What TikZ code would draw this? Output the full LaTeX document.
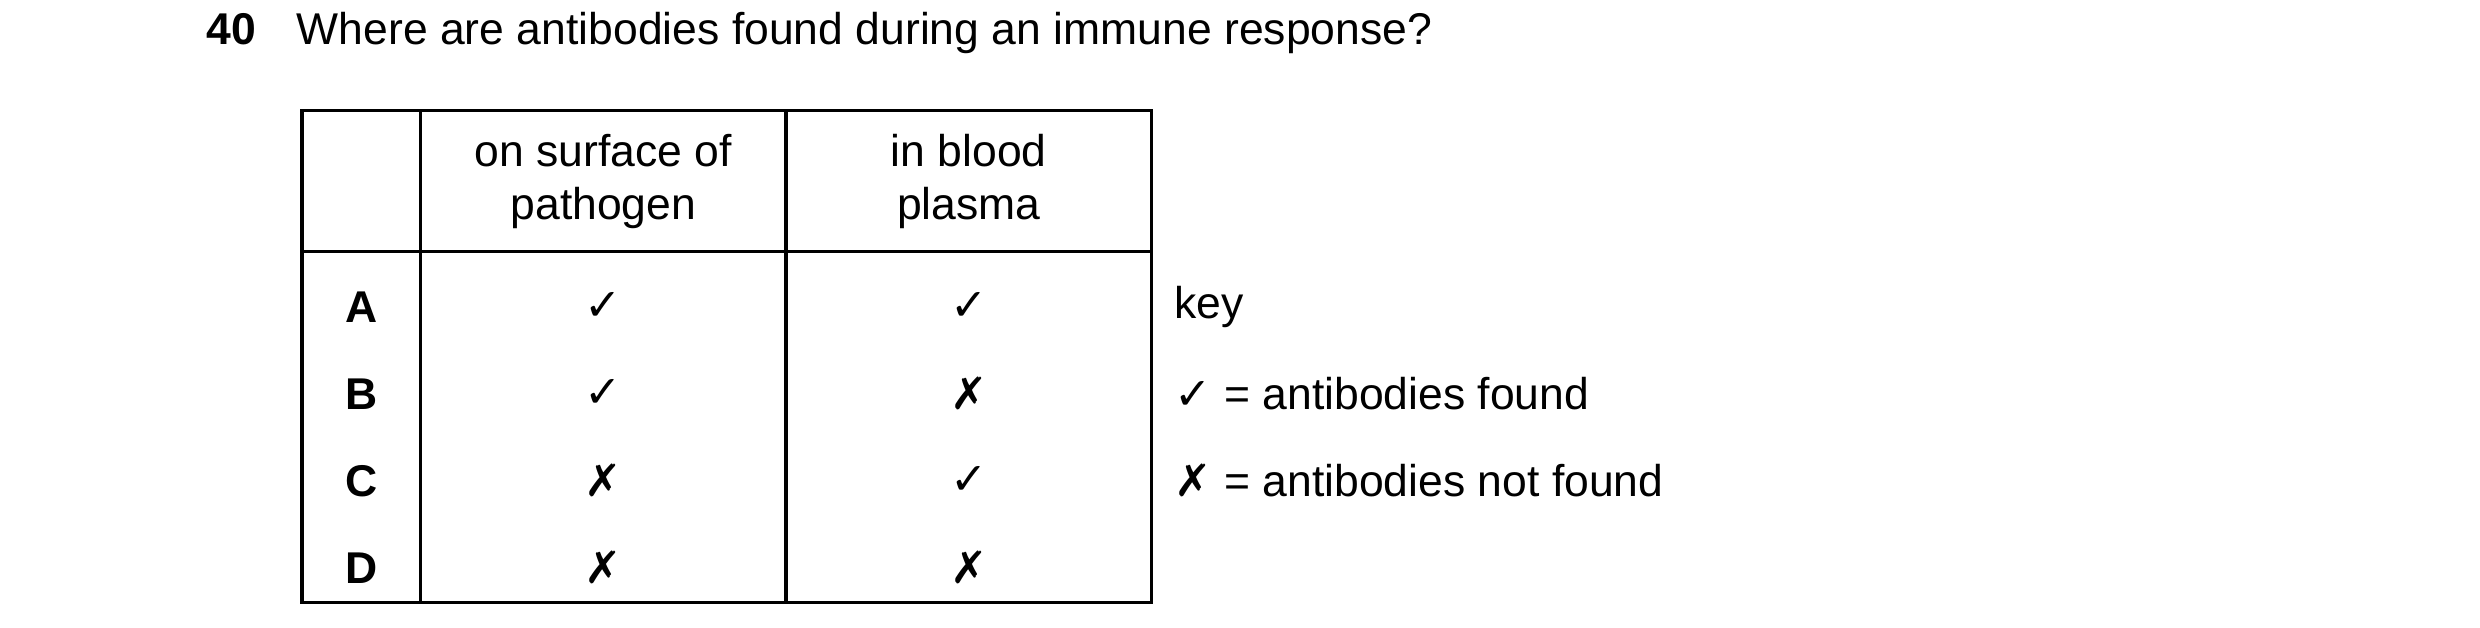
\documentclass[tikz,border=0pt]{standalone}
\usepackage{fontspec}
\setmainfont{Liberation Sans}
\newfontfamily\symfont{DejaVu Sans}
\newcommand{\yes}{{\symfont ✓}}
\newcommand{\no}{{\symfont ✗}}
\begin{document}
\begin{tikzpicture}[x=0.01cm,y=-0.01cm]
\tikzstyle{every node}=[font=\fontsize{8pt}{9.5pt}\selectfont, inner sep=0pt]
\tikzstyle{cell}=[align=center]
\tikzstyle{letter}=[font=\fontsize{8pt}{9.5pt}\selectfont\bfseries]
\useasboundingbox (0,0) rectangle (1568,397);
% question
\node[anchor=base west, font=\fontsize{8pt}{9.5pt}\selectfont\bfseries] (num) at (130,28) {40};
\node[anchor=base west] (question) at (187,28) {Where are antibodies found during an immune response?};
% table grid
\draw[line width=0.6pt] (191,70) rectangle (728,381);
\draw[line width=0.6pt] (191,159) -- (728,159);
\draw[line width=0.6pt] (266,70) -- (266,381);
\draw[line width=0.6pt] (497,70) -- (497,381);
% header
\node[cell] (hsurf) at (381.5,115) {on surface of\\pathogen};
\node[cell] (hblood) at (612.5,115) {in blood\\plasma};
% rows
\foreach \l/\s/\b [count=\i] in {A/\yes/\yes, B/\yes/\no, C/\no/\yes, D/\no/\no}{
  \node[letter] (row\l) at (228.5,{139+55*\i}) {\l};
  \node (surf\l) at (381.5,{139+55*\i}) {\s};
  \node (blood\l) at (612.5,{139+55*\i}) {\b};
}
% key
\node[anchor=west] (key) at (742,194) {key};
\node[anchor=west] (keyyes) at (742,249) {\yes\ = antibodies found};
\node[anchor=west] (keyno) at (742,304) {\no\ = antibodies not found};
\end{tikzpicture}
\end{document}
